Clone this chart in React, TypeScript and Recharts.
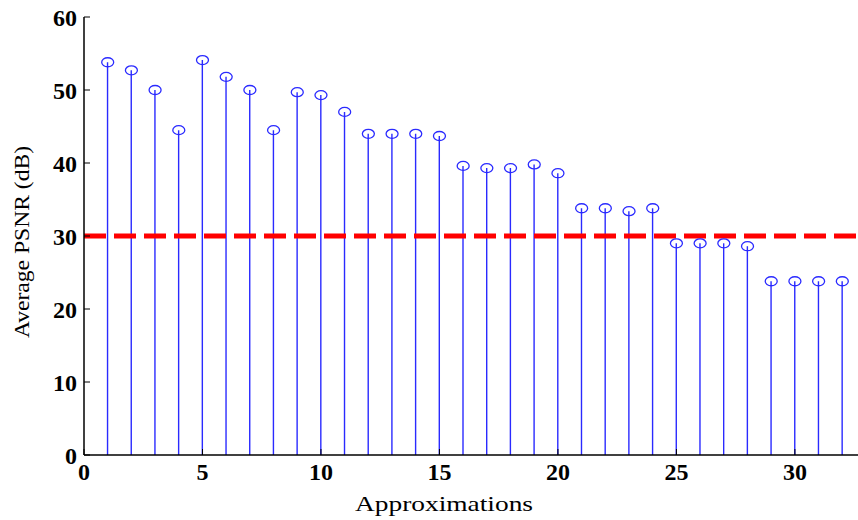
import { ComposedChart, Bar, Scatter, XAxis, YAxis, ReferenceLine } from 'recharts'

// average PSNR per approximation level
const approximations = [1, 2, 3, 4, 5, 6, 7, 8, 9, 10, 11, 12, 13, 14, 15, 16, 17, 18, 19, 20, 21, 22, 23, 24, 25, 26, 27, 28, 29, 30, 31, 32]
const psnr = [53.8, 52.7, 50.0, 44.5, 54.1, 51.8, 50.0, 44.5, 49.7, 49.3, 47.0, 44.0, 44.0, 44.0, 43.7, 39.6, 39.3, 39.3, 39.8, 38.6, 33.8, 33.8, 33.4, 33.8, 29.0, 29.0, 29.0, 28.6, 23.8, 23.8, 23.8, 23.8]
const threshold = 30
const xTicks = [0, 5, 10, 15, 20, 25, 30]
const yTicks = [0, 10, 20, 30, 40, 50, 60]

const data = approximations.map((a, i) => ({ x: a, psnr: psnr[i] }))

const serif = '"Liberation Serif", serif'
const tickFont = { fontFamily: serif, fontWeight: 700, fontSize: 24, fill: '#000' }
const blue = '#2a2aff'

const Marker = (p: any) => (
  <ellipse cx={p.cx} cy={p.cy} rx={6} ry={4.5} fill="none" stroke={blue} strokeWidth={1.3} />
)

// the original's text is a bit wider than plain Times, so stretch it
const XLabel = (p: any) => {
  const vb = p.viewBox
  return (
    <text x={vb.x + vb.width / 2 - 31} y={511} textAnchor="middle" fontFamily={serif} fontSize={22}
      textLength={178} lengthAdjust="spacingAndGlyphs" fill="#000">Approximations</text>
  )
}

const YLabel = (p: any) => {
  const vb = p.viewBox
  const cy = vb.y + vb.height / 2 + 6
  return (
    <text x={29} y={cy} transform={`rotate(-90 29 ${cy})`} textAnchor="middle" fontFamily={serif} fontSize={22}
      textLength={192} lengthAdjust="spacingAndGlyphs" fill="#000">Average PSNR (dB)</text>
  )
}

export default function App() {
  return (
    <div style={{ position: 'absolute', left: 0, top: 0, background: '#fff' }}>
      <ComposedChart width={858} height={520} data={data} margin={{ top: 17, right: -8, bottom: 0, left: 0 }}>
        <XAxis
          dataKey="x" type="number" domain={[0, 33]} ticks={xTicks} allowDecimals={false}
          height={65} tick={tickFont} tickSize={-6} tickMargin={14}
          axisLine={{ stroke: '#000', strokeWidth: 1.5 }} tickLine={{ stroke: '#000' }}
          label={{ content: XLabel }}
        />
        <XAxis
          xAxisId="top" orientation="top" dataKey="x" type="number" domain={[0, 33]} ticks={xTicks}
          height={0} tick={false} tickSize={-6} axisLine={{ stroke: '#000', strokeWidth: 1.5 }} tickLine={{ stroke: '#000' }}
        />
        <YAxis
          type="number" domain={[0, 60]} ticks={yTicks} width={84}
          tick={tickFont} tickSize={-6} tickMargin={13}
          axisLine={{ stroke: '#000', strokeWidth: 1.5 }} tickLine={{ stroke: '#000' }}
          label={{ content: YLabel }}
        />
        <YAxis
          yAxisId="right" orientation="right" type="number" domain={[0, 60]} ticks={yTicks} width={0}
          tick={false} tickSize={-6} axisLine={{ stroke: '#000', strokeWidth: 1.5 }} tickLine={{ stroke: '#000' }}
        />
        <Bar dataKey="psnr" barSize={1.4} fill={blue} isAnimationActive={false} />
        <Scatter dataKey="psnr" shape={Marker} isAnimationActive={false} />
        <ReferenceLine y={threshold} stroke="#ff0000" strokeWidth={5} strokeDasharray="22 8" />
      </ComposedChart>
    </div>
  )
}
